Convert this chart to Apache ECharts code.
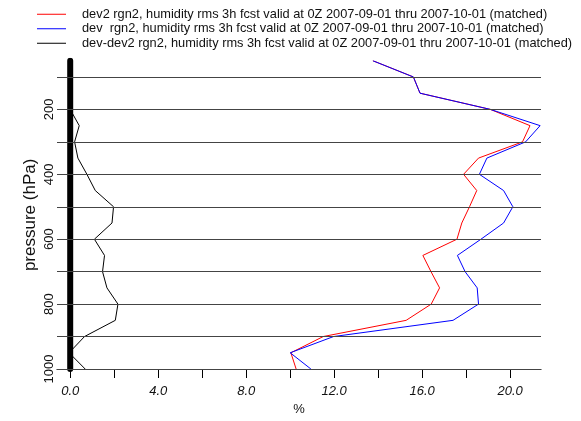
<!DOCTYPE html>
<html>
<head>
    <meta charset="utf-8">
    <title>humidity rms</title>
    <script src="https://cdn.jsdelivr.net/npm/echarts@6/dist/echarts.min.js"></script>
</head>
<body style="margin:0;">
<div id="main" style="width:581px;height:421px;"></div>
<script type="text/javascript">

var levels=[50,100,150,200,250,300,350,400,450,500,550,600,650,700,750,800,850,900,950,1000];
var dev2=[13.76,15.6,15.9,19.1,20.9,20.56,18.56,17.88,18.48,18.15,17.8,17.58,16.03,16.4,16.79,16.41,15.27,11.5,10.03,10.27];
var dev=[13.76,15.6,15.9,19.1,21.36,20.7,18.94,18.6,19.7,20.12,19.7,18.67,17.6,17.95,18.5,18.56,17.4,11.97,10.0,10.94];
var diff=[0,0,0,0,0.41,0.2,0.35,0.76,1.14,1.97,1.9,1.1,1.56,1.47,1.67,2.17,2.05,0.65,-0.05,0.68];

var gridLevels=[100,200,300,400,500,600,700,800,900,1000];
var yLabels=[200,400,600,800,1000];
var xTicks=[0,2,4,6,8,10,12,14,16,18,20];
var xLabels=[0,4,8,12,16,20];

var names=[
    'dev2 rgn2, humidity rms 3h fcst valid at 0Z 2007-09-01 thru 2007-10-01 (matched)',
    'dev  rgn2, humidity rms 3h fcst valid at 0Z 2007-09-01 thru 2007-10-01 (matched)',
    'dev-dev2 rgn2, humidity rms 3h fcst valid at 0Z 2007-09-01 thru 2007-10-01 (matched)'
];

function pairs(vals){
    var out=[];
    for(var i=0;i<levels.length;i++) out.push([vals[i],levels[i]]);
    return out;
}

var gridLines=[];
for(var i=0;i<gridLevels.length;i++) gridLines.push({yAxis:gridLevels[i]});

var font='Liberation Sans, Arial, sans-serif';

var myChart=echarts.init(document.getElementById('main'));

var option={
    animation:false,
    textStyle:{fontFamily:font},
    legend:{
        orient:'vertical',
        left:32,
        top:2,
        itemGap:0,
        itemWidth:29,
        itemHeight:1,
        icon:'rect',
        data:names,
        textStyle:{fontFamily:font,fontSize:12.8,color:'#111',lineHeight:14.5,padding:[0,0,0,11]}
    },
    grid:{left:57,right:40,top:60.75,bottom:51},
    xAxis:{
        type:'value',
        min:-0.6,
        max:21.4,
        name:'%',
        nameLocation:'middle',
        nameGap:34,
        nameTextStyle:{fontFamily:font,fontSize:13,color:'#111'},
        axisLine:{show:true,onZero:false,lineStyle:{color:'#000',width:1}},
        axisTick:{show:true,length:9,customValues:xTicks,lineStyle:{color:'#000'}},
        axisLabel:{
            customValues:xLabels,
            margin:16,
            fontSize:13,
            fontStyle:'italic',
            color:'#111',
            formatter:function(v){return v.toFixed(1);}
        },
        splitLine:{show:false}
    },
    yAxis:{
        type:'value',
        inverse:true,
        min:50,
        max:1000,
        name:'pressure (hPa)',
        nameLocation:'middle',
        nameGap:18,
        nameMoveOverlap:false,
        nameTextStyle:{fontFamily:font,fontSize:17,color:'#111'},
        axisLine:{show:false},
        axisTick:{show:false},
        axisLabel:{
            customValues:yLabels,
            rotate:90,
            margin:1,
            fontSize:13,
            color:'#111',
            formatter:function(v){return String(v);}
        },
        splitLine:{show:false}
    },
    series:[{
        name:'zero',
        type:'line',
        data:[[0,50],[0,1000]],
        symbol:'none',
        silent:true,
        z:1,
        lineStyle:{color:'#000',width:6,cap:'round'},
        markLine:{
            silent:true,
            symbol:'none',
            label:{show:false},
            lineStyle:{color:'#444',width:1,type:'solid'},
            data:gridLines
        }
    },{
        name:names[0],
        type:'line',
        data:pairs(dev2),
        symbol:'none',
        z:3,
        color:'#ff0000',
        lineStyle:{color:'#ff0000',width:1}
    },{
        name:names[1],
        type:'line',
        data:pairs(dev),
        symbol:'none',
        z:3,
        color:'#0000ff',
        lineStyle:{color:'#0000ff',width:1}
    },{
        name:names[2],
        type:'line',
        data:pairs(diff),
        symbol:'none',
        z:2,
        color:'#000000',
        lineStyle:{color:'#000',width:1}
    }]
};

myChart.setOption(option);
</script>
</body>
</html>
